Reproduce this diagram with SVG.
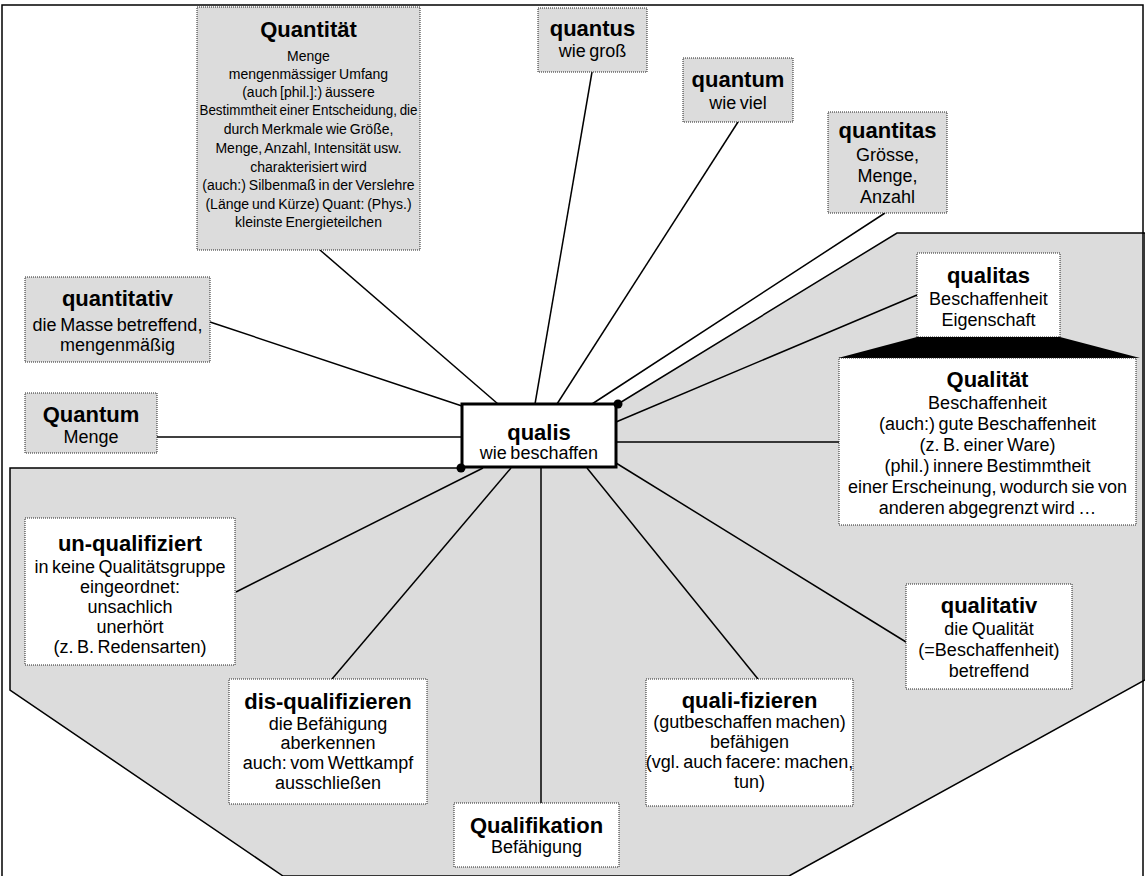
<svg xmlns="http://www.w3.org/2000/svg" width="1145" height="876" viewBox="0 0 1145 876">
  <style>
    .bx { stroke: #222; stroke-width: 1; stroke-dasharray: 1 1; }
    .qn { fill: #dcdcdc; }
    .ql { fill: #ffffff; }
    .ti { font-family: "Liberation Sans", Arial, sans-serif; font-weight: bold; font-size: 22px; text-anchor: middle; fill: #000; }
    .tx { font-family: "Liberation Sans", Arial, sans-serif; font-size: 18px; text-anchor: middle; fill: #000; word-spacing: -1.5px; }
    .sm { font-size: 14px; word-spacing: -1px; }
    .cn line { stroke: #000; stroke-width: 1.5; }
  </style>

  <rect x="0" y="0" width="1145" height="876" fill="#ffffff"/>

  <!-- shaded field of the quality terms -->
  <polygon points="10,468 461,468 618,404 897,233 1145,233 1145,680 789,876 283,876 10,690" fill="#dcdcdc" stroke="#000" stroke-width="1.5"/>

  <!-- outer frame -->
  <rect x="2" y="5" width="1141" height="875" fill="none" stroke="#000" stroke-width="1.5"/>

  <!-- connectors from the central term -->
  <g class="cn" id="connectors">
    <line x1="498" y1="404" x2="320" y2="250"/>
    <line x1="535" y1="404" x2="592" y2="72"/>
    <line x1="557" y1="404" x2="738" y2="122"/>
    <line x1="592" y1="404" x2="885" y2="213"/>
    <line x1="462" y1="406" x2="210" y2="322"/>
    <line x1="462" y1="437" x2="157" y2="437"/>
    <line x1="616" y1="422" x2="917" y2="295"/>
    <line x1="616" y1="442" x2="839" y2="442"/>
    <line x1="616" y1="463" x2="906" y2="642"/>
    <line x1="587" y1="468" x2="758" y2="679"/>
    <line x1="541" y1="468" x2="541" y2="803"/>
    <line x1="511" y1="468" x2="332" y2="679"/>
    <line x1="483" y1="468" x2="236" y2="592"/>
  </g>

  <g id="quantitaet">
    <rect class="bx qn" x="197" y="7" width="223" height="243"/>
    <text class="ti" x="308.5" y="37" font-size="20">Quantität</text>
    <text class="tx sm" x="308.5" y="61">Menge</text>
    <text class="tx sm" x="308.5" y="79">mengenmässiger Umfang</text>
    <text class="tx sm" x="308.5" y="97">(auch [phil.]:) äussere</text>
    <text class="tx sm" x="308.5" y="115" textLength="218" lengthAdjust="spacingAndGlyphs">Bestimmtheit einer Entscheidung, die</text>
    <text class="tx sm" x="308.5" y="134">durch Merkmale wie Größe,</text>
    <text class="tx sm" x="308.5" y="153">Menge, Anzahl, Intensität usw.</text>
    <text class="tx sm" x="308.5" y="172">charakterisiert wird</text>
    <text class="tx sm" x="308.5" y="190">(auch:) Silbenmaß in der Verslehre</text>
    <text class="tx sm" x="308.5" y="209">(Länge und Kürze) Quant: (Phys.)</text>
    <text class="tx sm" x="308.5" y="227">kleinste Energieteilchen</text>
  </g>

  <g id="quantus">
    <rect class="bx qn" x="538" y="8" width="109" height="64"/>
    <text class="ti" x="592.5" y="36">quantus</text>
    <text class="tx" x="592.5" y="57" font-size="16">wie groß</text>
  </g>

  <g id="quantum">
    <rect class="bx qn" x="683" y="58" width="110" height="64"/>
    <text class="ti" x="738" y="87">quantum</text>
    <text class="tx" x="738" y="109" font-size="16">wie viel</text>
  </g>

  <g id="quantitas">
    <rect class="bx qn" x="828" y="112" width="119" height="101"/>
    <text class="ti" x="887.5" y="138">quantitas</text>
    <text class="tx" x="887.5" y="161">Grösse,</text>
    <text class="tx" x="887.5" y="182">Menge,</text>
    <text class="tx" x="887.5" y="203">Anzahl</text>
  </g>

  <g id="quantitativ">
    <rect class="bx qn" x="25" y="277" width="185" height="85"/>
    <text class="ti" x="117.5" y="306">quantitativ</text>
    <text class="tx" x="117.5" y="331">die Masse betreffend,</text>
    <text class="tx" x="117.5" y="351">mengenmäßig</text>
  </g>

  <g id="quantum-menge">
    <rect class="bx qn" x="25" y="393" width="132" height="60"/>
    <text class="ti" x="91" y="422">Quantum</text>
    <text class="tx" x="91" y="443">Menge</text>
  </g>

  <g id="qualis">
    <rect x="462" y="404" width="154" height="63" fill="#fff" stroke="#000" stroke-width="3"/>
    <text class="ti" x="539" y="440">qualis</text>
    <text class="tx" x="539" y="459" font-size="17.5">wie beschaffen</text>
    <circle cx="618" cy="404" r="4.5" fill="#000"/>
    <circle cx="461" cy="468" r="4.5" fill="#000"/>
  </g>

  <g id="qualitas">
    <rect class="bx ql" x="917" y="253" width="143" height="84"/>
    <text class="ti" x="988.5" y="283">qualitas</text>
    <text class="tx" x="988.5" y="305">Beschaffenheit</text>
    <text class="tx" x="988.5" y="326">Eigenschaft</text>
  </g>

  <!-- widening band between the Latin term and its German derivative -->
  <polygon points="917,337 1060,337 1140,358 838,358" fill="#000"/>

  <g id="qualitaet">
    <rect class="bx ql" x="839" y="358" width="297" height="167"/>
    <text class="ti" x="987.5" y="387">Qualität</text>
    <text class="tx" x="987.5" y="409">Beschaffenheit</text>
    <text class="tx" x="987.5" y="430">(auch:) gute Beschaffenheit</text>
    <text class="tx" x="987.5" y="451">(z. B. einer Ware)</text>
    <text class="tx" x="987.5" y="472">(phil.) innere Bestimmtheit</text>
    <text class="tx" x="987.5" y="493">einer Erscheinung, wodurch sie von</text>
    <text class="tx" x="987.5" y="514">anderen abgegrenzt wird …</text>
  </g>

  <g id="un-qualifiziert">
    <rect class="bx ql" x="25" y="518" width="210" height="147"/>
    <text class="ti" x="130" y="551">un-qualifiziert</text>
    <text class="tx" x="130" y="573">in keine Qualitätsgruppe</text>
    <text class="tx" x="130" y="593">eingeordnet:</text>
    <text class="tx" x="130" y="613">unsachlich</text>
    <text class="tx" x="130" y="633">unerhört</text>
    <text class="tx" x="130" y="653">(z. B. Redensarten)</text>
  </g>

  <g id="dis-qualifizieren">
    <rect class="bx ql" x="229" y="679" width="198" height="125"/>
    <text class="ti" x="328" y="709">dis-qualifizieren</text>
    <text class="tx" x="328" y="730">die Befähigung</text>
    <text class="tx" x="328" y="749">aberkennen</text>
    <text class="tx" x="328" y="769">auch: vom Wettkampf</text>
    <text class="tx" x="328" y="789">ausschließen</text>
  </g>

  <g id="qualifikation">
    <rect class="bx ql" x="454" y="803" width="165" height="64"/>
    <text class="ti" x="536.5" y="833">Qualifikation</text>
    <text class="tx" x="536.5" y="853">Befähigung</text>
  </g>

  <g id="quali-fizieren">
    <rect class="bx ql" x="646" y="679" width="207" height="127"/>
    <text class="ti" x="749.5" y="708">quali-fizieren</text>
    <text class="tx" x="749.5" y="728">(gutbeschaffen machen)</text>
    <text class="tx" x="749.5" y="748">befähigen</text>
    <text class="tx" x="749.5" y="768">(vgl. auch facere: machen,</text>
    <text class="tx" x="749.5" y="788">tun)</text>
  </g>

  <g id="qualitativ">
    <rect class="bx ql" x="906" y="584" width="166" height="105"/>
    <text class="ti" x="989" y="613">qualitativ</text>
    <text class="tx" x="989" y="635">die Qualität</text>
    <text class="tx" x="989" y="656">(=Beschaffenheit)</text>
    <text class="tx" x="989" y="677">betreffend</text>
  </g>
</svg>
